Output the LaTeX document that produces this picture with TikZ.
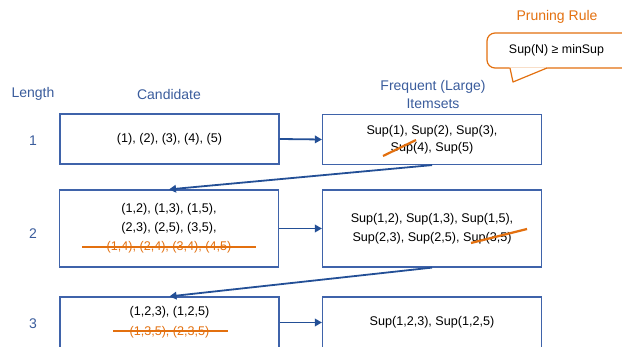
\documentclass[tikz,border=0pt]{standalone}
\usepackage{fontspec}
\setmainfont{Liberation Sans}
\usepackage{tikz}
\usetikzlibrary{arrows.meta}
\definecolor{boxblue}{HTML}{3F63AA}
\definecolor{lblblue}{HTML}{3A5C9C}
\definecolor{arrblue}{HTML}{234F96}
\definecolor{cutorange}{HTML}{E3700F}
\tikzset{
  box_n/.style = {draw=boxblue, line width=1.2pt, fill=white, minimum width=219pt, align=center, inner sep=0pt, font=\fontsize{12.6}{19}\selectfont},
  head_lbl/.style = {text=lblblue, align=center, font=\fontsize{14}{18}\selectfont},
  flow_arr/.style = {-{Triangle[length=7pt,width=7.5pt]}, draw=arrblue, line width=1.8pt},
  cut_line/.style = {draw=cutorange, line width=2.2pt},
  rule_box/.style = {draw=cutorange, line width=1.2pt, fill=white, rounded corners=8pt, minimum width=145pt, minimum height=35pt, inner sep=0pt, font=\fontsize{12.4}{14}\selectfont}
}

\begin{document}
\begin{tikzpicture}[x=1pt, y=-1pt]
	\useasboundingbox (0,0) rectangle (622,347);
	% headings
	\node [head_lbl] (len) at (33,94) {Length};
	\node [head_lbl] (cand) at (169,94) {Candidate};
	\node [head_lbl] (freq) at (433,94) {Frequent (Large)\\Itemsets};
	\node [head_lbl] (n1) at (33,141) {1};
	\node [head_lbl] (n2) at (33,234) {2};
	\node [head_lbl] (n3) at (33,324) {3};
	% pruning rule callout
	\node [head_lbl, text=cutorange] (prune) at (557,17) {Pruning Rule};
	\node [rule_box] (rule) at (559.5,50.5) {\hspace*{-6pt}Sup(N) ≥ minSup};
	\fill [white] (509.5,67.3) -- (513,82) -- (547.5,67.3) -- cycle;
	\draw [draw=cutorange, line width=1.2pt, line join=round] (510,68) -- (513,82) -- (547,68);
	% boxes
	\node [box_n, minimum height=50pt] (c1) at (169.5,139) {(1), (2), (3), (4), (5)};
	\node [box_n, minimum height=50pt, font=\fontsize{12.6}{17}\selectfont] (f1) at (432,139.5) {Sup(1), Sup(2), Sup(3),\\Sup(4), Sup(5)};
	\node [box_n, minimum height=77pt] (c2) at (169,228.5) {(1,2), (1,3), (1,5),\\(2,3), (2,5), (3,5),\\{\color{cutorange}(1,4), (2,4), (3,4), (4,5)}};
	\node [box_n, minimum height=77pt] (f2) at (432,228.5) {Sup(1,2), Sup(1,3), Sup(1,5),\\Sup(2,3), Sup(2,5), Sup(3,5)};
	\node [box_n, minimum height=51pt, font=\fontsize{12.6}{20}\selectfont] (c3) at (169.5,322.5) {(1,2,3), (1,2,5)\\{\color{cutorange}(1,3,5), (2,3,5)}};
	\node [box_n, minimum height=51pt] (f3) at (432,322.5) {Sup(1,2,3), Sup(1,2,5)};
	% flow
	\draw [flow_arr] (c1.east) -- (f1.west);
	\draw [flow_arr] (f1.south) -- (c2.north);
	\draw [flow_arr] (c2.east) -- (f2.west);
	\draw [flow_arr] (f2.south) -- (c3.north);
	\draw [flow_arr] (c3.east) -- (f3.west);
	% pruned
	\draw [cut_line] (383,156) -- (416,140);
	\draw [cut_line] (82,247) -- (256,247);
	\draw [cut_line] (471,243) -- (527,229);
	\draw [cut_line] (113,331) -- (228,331);
\end{tikzpicture}
\end{document}
